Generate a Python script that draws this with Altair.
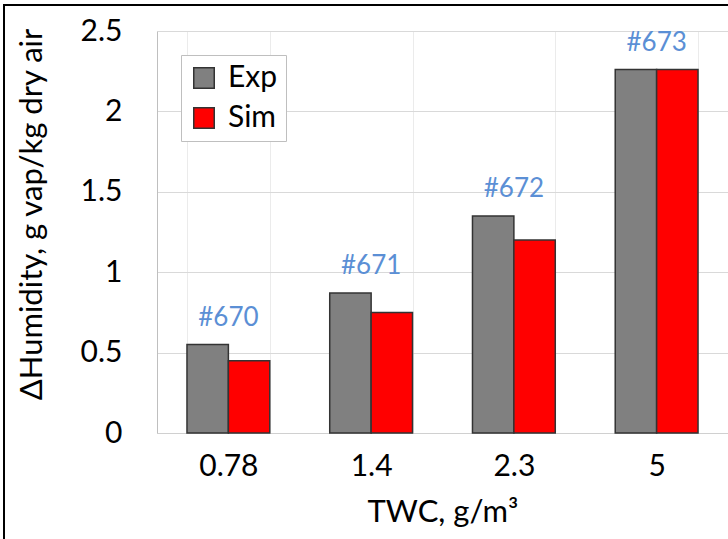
import altair as alt
import pandas as pd

# Total water content categories and humidity rise per run
twc = ["0.78", "1.4", "2.3", "5"]
exp_vals = [0.55, 0.87, 1.35, 2.26]
sim_vals = [0.45, 0.75, 1.20, 2.26]
run_ids = ["#670", "#671", "#672", "#673"]
series = ["Exp", "Sim"]

bars_df = pd.DataFrame({
    "TWC": twc * 2,
    "series": ["Exp"] * len(twc) + ["Sim"] * len(twc),
    "value": exp_vals + sim_vals,
})
runs_df = pd.DataFrame({
    "TWC": twc,
    "value": [max(e, s) for e, s in zip(exp_vals, sim_vals)],
    "run": run_ids,
})

W, H = 571, 402
FONT = "Lato"

x_enc = alt.X(
    "TWC:N",
    sort=twc,
    title="TWC, g/m³",
    scale=alt.Scale(paddingInner=0.42, paddingOuter=0.21),
    axis=alt.Axis(
        labelAngle=0,
        tickBand="extent",
        grid=True,
        gridColor="#EBEBEB",
        domainColor="#D0D0D0",
        labelPadding=18,
        titlePadding=16,
        titleFontSize=31,
    ),
)
y_enc = alt.Y(
    "value:Q",
    title="ΔHumidity, g vap/kg dry air",
    scale=alt.Scale(domain=[0, 2.5], nice=False),
    axis=alt.Axis(
        values=[0, 0.5, 1, 1.5, 2, 2.5],
        format="~g",
        gridColor="#D9D9D9",
        domain=True,
        domainColor="#BFBFBF",
        labelPadding=35,
        titleX=-125,
        titleY=183,
        titleBaseline="middle",
        titleFontSize=31,
    ),
)

bars = alt.Chart(bars_df).mark_bar(stroke="#333333", strokeWidth=1.5).encode(
    x=x_enc,
    xOffset=alt.XOffset("series:N", sort=series, scale=alt.Scale(paddingInner=0, paddingOuter=0)),
    y=y_enc,
    color=alt.Color(
        "series:N",
        sort=series,
        scale=alt.Scale(domain=series, range=["#808080", "#FF0000"]),
        legend=alt.Legend(
            title=None,
            orient="none",
            legendX=24,
            legendY=24,
            fillColor="white",
            strokeColor="#BFBFBF",
            padding=8,
            symbolType="square",
            symbolSize=420,
            symbolStrokeColor="#333333",
            symbolStrokeWidth=1.5,
            labelFontSize=30,
            labelFont=FONT,
            labelOffset=9,
            rowPadding=10,
        ),
    ),
)

run_labels = alt.Chart(runs_df).mark_text(
    dy=-27, fontSize=26, font=FONT, color="#5B8FD5"
).encode(
    x=alt.X("TWC:N", sort=twc),
    y=alt.Y("value:Q"),
    text="run:N",
)

# Outer frame around the figure
frame = alt.Chart(pd.DataFrame({"k": [0]})).mark_rect(
    filled=False, stroke="black", strokeWidth=2
).encode(
    x=alt.value(-153), x2=alt.value(W + 60),
    y=alt.value(-26), y2=alt.value(H + 200),
)

chart = (
    alt.layer(bars, run_labels, frame)
    .properties(
        width=W,
        height=H,
        autosize="none",
        padding={"left": 157, "top": 31, "right": 0, "bottom": 106},
        background="white",
    )
    .configure(font=FONT)
    .configure_view(stroke=None)
    .configure_axis(
        labelFont=FONT,
        labelFontSize=30,
        labelColor="black",
        titleFont=FONT,
        titleFontWeight="normal",
        titleColor="black",
        ticks=False,
    )
)

chart.save("out.html", embed_options={"renderer": "svg", "actions": False})
